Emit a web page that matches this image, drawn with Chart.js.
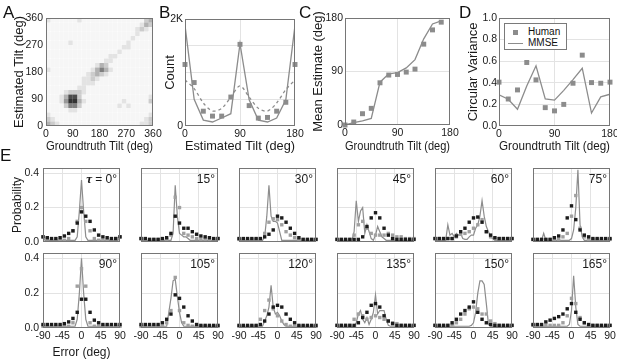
<!DOCTYPE html>
<html>
<head>
<meta charset="utf-8">
<script src="https://cdn.jsdelivr.net/npm/chart.js@4.4.1/dist/chart.umd.min.js"></script>
<style>
  body { margin: 0; background: #fff; }
  #fig { position: relative; width: 617px; height: 363px; overflow: hidden; font-family: "Liberation Sans", Arial, sans-serif; color: #111; }
  #fig canvas { position: absolute; left: 0; top: 0; }
  .tag { position: absolute; font-size: 17px; line-height: 17px; z-index: 5; }
  #legD { position: absolute; left: 504px; top: 23px; width: 61px; height: 25px; border: 1px solid #7a7a7a; background: #fff; font-size: 10px; z-index: 5; }
  #legD span { position: absolute; line-height: 12px; }
</style>
</head>
<body>
<div id="fig">
  <div class="tag" style="left:3px;top:4px">A</div>
  <div class="tag" style="left:159px;top:4px">B</div>
  <div class="tag" style="left:299px;top:4px">C</div>
  <div class="tag" style="left:459px;top:4px">D</div>
  <div class="tag" style="left:0px;top:147px">E</div>
  <div id="legD">
    <span style="left:8px;top:6px;width:5px;height:5px;background:#8c8c8c"></span>
    <span style="left:23px;top:2px">Human</span>
    <span style="left:3px;top:19px;width:15px;height:1px;background:#8c8c8c"></span>
    <span style="left:23px;top:13px">MMSE</span>
  </div>
</div>
<script>
// ---- A: response density, 15 deg bins (rows: estimated 360 -> 0, cols: groundtruth 0 -> 360)
const aGrid = [
  '2111 1112 1111 1111 1111 1134',
  '1111 1111 1111 1111 1111 1243',
  '1111 1111 1111 1111 1111 2321',
  '1111 1111 1111 1111 1111 2111',
  '1111 1111 1111 1111 1112 1111',
  '1111 1211 1111 1111 1121 1111',
  '1111 1111 1111 1111 1221 1111',
  '1111 1111 1111 1111 2111 1111',
  '1111 1111 1111 1122 1111 1111',
  '1111 1111 1111 1221 1111 1111',
  '1111 1111 1112 4311 1111 1111',
  '2111 1111 1124 6421 1111 1111',
  '1111 1111 1234 3211 1111 1111',
  '1111 1111 2232 1111 1111 1111',
  '1111 1111 2221 1111 1111 1111',
  '1111 1112 2111 1111 1111 1111',
  '1111 2333 2111 1111 1111 1111',
  '1112 4883 1111 1111 1111 1112',
  '1112 5994 2111 1111 1211 1113',
  '1111 3663 1111 1111 2121 1111',
  '1111 1221 1111 1111 1111 1111',
  '2111 1111 1111 1111 1111 1112',
  '3211 1111 1111 1111 1111 1123',
  '4321 1111 1111 1111 1111 1223'
];
const aShade = [0, .035, .11, .2, .3, .4, .5, .6, .7, .8];

// ---- B: histogram of estimates
const bTilt = [0, 15, 30, 45, 60, 75, 90, 105, 120, 135, 150, 165, 180];
const bHuman = [1150, 812, 277, 185, 185, 541, 1526, 381, 148, 160, 277, 443, 1150];
const bMmse = [1880, 500, 110, 75, 150, 230, 1540, 490, 110, 75, 150, 490, 1880];
const bDashed = [860, 700, 430, 280, 330, 540, 750, 540, 330, 280, 430, 680, 860];

// ---- C: mean estimate
const cTilt = [0, 15, 30, 45, 60, 75, 90, 105, 120, 135, 150, 165];
const cHuman = [0, 5, 19, 28, 71, 84, 85, 89, 94, 136, 160, 173];
const cMmse = [0, 4, 7, 11, 72, 86, 88, 96, 110, 145, 170, 175];

// ---- D: circular variance
const dTilt = [0, 15, 30, 45, 60, 75, 90, 105, 120, 135, 150, 165, 180];
const dHuman = [.406, .25, .334, .588, .427, .17, .14, .20, .396, .656, .402, .396, .406];
const dMmse = [.288, .248, .155, .37, .557, .25, .24, .33, .43, .535, .12, .27, .294];

// ---- E: error distributions per groundtruth tilt
const eTilts = ['0°', '15°', '30°', '45°', '60°', '75°', '90°', '105°', '120°', '135°', '150°', '165°'];
const errSq = [-90, -80, -70, -60, -50, -40, -30, -20, -10, 0, 10, 20, 30, 40, 50, 60, 70, 80, 90];
const errLn = [-90, -85, -80, -75, -70, -65, -60, -55, -50, -45, -40, -35, -30, -25, -20, -15, -10, -5, 0,
  5, 10, 15, 20, 25, 30, 35, 40, 45, 50, 55, 60, 65, 70, 75, 80, 85, 90];
const errBlack = [
  [.03,.025,.02,.02,.025,.035,.05,.065,.11,.175,.15,.12,.07,.04,.03,.025,.02,.02,.03],
  [.02,.02,.015,.015,.015,.02,.025,.05,.15,.11,.08,.08,.06,.045,.035,.03,.025,.02,.02],
  [.02,.02,.02,.02,.02,.02,.03,.045,.07,.15,.14,.115,.08,.05,.025,.015,.015,.015,.015],
  [.015,.015,.015,.015,.015,.015,.03,.09,.14,.17,.14,.08,.04,.02,.015,.015,.015,.015,.015],
  [.02,.02,.02,.02,.02,.035,.06,.08,.115,.14,.145,.115,.06,.04,.025,.02,.02,.02,.02],
  [.015,.015,.015,.015,.015,.025,.035,.07,.14,.21,.13,.07,.04,.03,.02,.02,.02,.02,.02],
  [.02,.02,.02,.02,.02,.025,.035,.055,.09,.165,.165,.09,.045,.03,.02,.02,.02,.02,.02],
  [.02,.02,.02,.02,.02,.03,.05,.08,.19,.17,.12,.07,.04,.02,.015,.015,.015,.015,.015],
  [.015,.015,.015,.015,.015,.02,.04,.08,.12,.13,.12,.08,.05,.03,.015,.015,.015,.015,.015],
  [.015,.015,.015,.015,.015,.03,.06,.09,.13,.14,.12,.07,.04,.025,.015,.015,.015,.015,.015],
  [.015,.015,.015,.015,.03,.05,.08,.1,.12,.15,.09,.05,.03,.02,.015,.015,.015,.015,.015],
  [.02,.02,.02,.035,.045,.055,.065,.08,.11,.14,.09,.05,.03,.02,.015,.015,.015,.015,.015]
];
const errGray = [
  [.03,.02,.01,.01,.01,.01,.02,.065,.12,.2,.12,.065,.02,.01,.01,.01,.01,.02,.03],
  [.02,.015,.015,.015,.015,.015,.015,.04,.26,.2,.05,.04,.03,.02,.015,.015,.015,.015,.02],
  [.015,.015,.015,.015,.015,.015,.05,.115,.135,.13,.1,.06,.04,.025,.015,.015,.015,.015,.015],
  [.015,.015,.015,.015,.04,.1,.12,.08,.05,.04,.04,.04,.05,.04,.03,.03,.02,.02,.02],
  [.02,.02,.02,.02,.02,.03,.045,.05,.06,.08,.1,.13,.06,.03,.02,.02,.02,.02,.02],
  [.015,.015,.015,.015,.015,.015,.015,.03,.05,.15,.27,.08,.03,.015,.015,.015,.015,.015,.015],
  [.01,.01,.01,.01,.01,.01,.01,.03,.24,.34,.24,.03,.01,.01,.01,.01,.01,.01,.01],
  [.01,.01,.01,.01,.01,.01,.03,.1,.29,.1,.03,.015,.01,.01,.01,.01,.01,.01,.01],
  [.01,.01,.01,.01,.01,.05,.1,.16,.11,.07,.04,.02,.01,.01,.01,.01,.01,.01,.01],
  [.015,.015,.015,.015,.05,.08,.07,.05,.06,.07,.06,.05,.04,.03,.025,.015,.015,.015,.015],
  [.015,.015,.015,.015,.015,.03,.05,.08,.11,.12,.11,.08,.08,.04,.025,.015,.015,.015,.015],
  [.015,.015,.015,.015,.015,.015,.015,.03,.07,.17,.14,.06,.03,.015,.015,.015,.015,.015,.015]
];
const errLine = [
  [.02,.01,.01,.01,.01,.01,.01,.01,.01,.01,.01,.01,.01,.01,.01,.01,.03,.18,.36,.18,.03,.01,.01,.01,.01,.01,.01,.01,.01,.01,.01,.01,.01,.01,.01,.01,.02],
  [.01,.01,.01,.01,.01,.01,.01,.01,.01,.01,.01,.01,.01,.01,.01,.05,.33,.15,.05,.04,.03,.03,.02,.01,.01,.01,.01,.01,.01,.01,.01,.01,.01,.01,.01,.01,.01],
  [.01,.01,.01,.01,.01,.01,.01,.01,.01,.01,.01,.01,.03,.15,.33,.15,.12,.12,.11,.06,.01,.01,.01,.01,.01,.01,.01,.01,.01,.01,.01,.01,.01,.01,.01,.01,.01],
  [.01,.01,.01,.01,.01,.01,.01,.01,.06,.24,.12,.18,.2,.05,.1,.06,.02,.01,.04,.09,.06,.03,.02,.01,.01,.01,.01,.01,.01,.01,.01,.01,.01,.01,.01,.01,.01],
  [.01,.01,.01,.01,.01,.01,.1,.04,.05,.03,.05,.04,.05,.02,.015,.015,.03,.04,.04,.08,.1,.15,.24,.15,.09,.06,.03,.02,.01,.01,.01,.01,.01,.01,.01,.01,.01],
  [.01,.01,.01,.01,.01,.05,.01,.01,.01,.01,.01,.01,.01,.01,.01,.01,.01,.01,.02,.07,.2,.42,.1,.03,.01,.01,.01,.01,.01,.01,.01,.01,.01,.01,.01,.01,.01],
  [.01,.01,.01,.01,.01,.01,.01,.01,.01,.01,.01,.01,.01,.01,.01,.01,.05,.2,.4,.2,.05,.01,.01,.01,.01,.01,.01,.01,.01,.01,.01,.01,.01,.01,.01,.01,.01],
  [.01,.01,.01,.01,.01,.01,.01,.01,.01,.01,.01,.01,.01,.09,.17,.27,.28,.18,.09,.03,.01,.01,.01,.01,.01,.01,.01,.01,.01,.01,.01,.01,.01,.01,.01,.01,.01],
  [.01,.01,.01,.01,.01,.01,.01,.01,.01,.01,.01,.01,.04,.07,.12,.245,.12,.08,.09,.07,.04,.02,.01,.01,.01,.01,.01,.01,.01,.01,.01,.01,.01,.01,.01,.01,.01],
  [.01,.01,.01,.01,.01,.01,.01,.01,.01,.03,.08,.1,.05,.03,.06,.02,.05,.09,.19,.08,.1,.1,.1,.05,.015,.01,.01,.01,.01,.01,.01,.01,.01,.01,.01,.01,.01],
  [.01,.01,.01,.01,.01,.01,.01,.01,.01,.01,.01,.01,.01,.01,.01,.01,.01,.015,.03,.09,.2,.27,.27,.25,.14,.02,.01,.01,.01,.01,.01,.01,.01,.01,.01,.01,.01],
  [.01,.01,.01,.01,.01,.01,.01,.01,.01,.01,.01,.01,.01,.01,.01,.01,.01,.02,.1,.3,.12,.02,.01,.01,.01,.01,.01,.01,.01,.01,.01,.01,.01,.01,.01,.01,.01]
];

Chart.defaults.font.family = '"Liberation Sans", Arial, Helvetica, sans-serif';
Chart.defaults.color = '#1a1a1a';

const W = 617, H = 363;
const fig = document.getElementById('fig');

// box round the plot area, plus the tilt tag for the E panels
const frame = {
  id: 'frame',
  afterDraw(chart, args, opts) {
    const { ctx, chartArea: a } = chart;
    ctx.save();
    ctx.strokeStyle = '#767676';
    ctx.lineWidth = 1;
    ctx.strokeRect(a.left + 0.5, a.top + 0.5, a.right - a.left - 1, a.bottom - a.top - 1);
    if (opts.tag) {
      const x = a.right - 3, y = a.top + 12;
      ctx.fillStyle = '#1a1a1a';
      ctx.textAlign = 'right';
      ctx.textBaseline = 'middle';
      ctx.font = '12px "Liberation Sans", Arial, sans-serif';
      ctx.fillText(opts.tag, x, y);
      if (opts.sym) {
        const w = ctx.measureText(opts.tag).width;
        ctx.font = 'italic bold 13px "Liberation Serif", "DejaVu Serif", serif';
        ctx.fillText(opts.sym + ' ', x - w, y);
      }
    }
    ctx.restore();
  }
};

function scale(o) {
  return {
    type: 'linear',
    min: o.min, max: o.max,
    afterBuildTicks: s => { s.ticks = o.ticks.map(v => ({ value: v })); },
    afterFit: s => {
      if (s.isHorizontal()) s.height = o.size; else s.width = o.size;
      s.paddingLeft = s.paddingRight = s.paddingTop = s.paddingBottom = 0;
    },
    ticks: {
      display: o.labels !== false, padding: o.pad ?? 2, maxRotation: 0, autoSkip: false,
      callback: o.fmt || (v => String(v)), font: { size: 10.5 }, color: '#1a1a1a'
    },
    grid: {
      drawTicks: false,
      color: c => (o.grid || []).includes(c.tick && c.tick.value) ? '#e3e3e3' : 'rgba(0,0,0,0)'
    },
    border: { display: false },
    title: { display: !!o.title, text: o.title || '', padding: 0, color: '#1a1a1a', font: { size: o.tsize || 13 } }
  };
}

function panel(rect, xo, yo, datasets, frameOpts) {
  const c = document.createElement('canvas');
  c.width = W; c.height = H;
  fig.appendChild(c);
  new Chart(c, {
    type: 'scatter',
    data: { datasets },
    options: {
      responsive: false, animation: false, events: [],
      layout: { padding: { left: rect[0] - yo.size, top: rect[1], right: W - rect[2], bottom: H - rect[3] - xo.size } },
      plugins: { legend: { display: false }, tooltip: { enabled: false }, frame: frameOpts || {} },
      scales: { x: scale(xo), y: scale(yo) }
    },
    plugins: [frame]
  });
}

const xy = (xs, ys) => ys.map((y, i) => ({ x: xs[i], y }));
const sq = (xs, ys, color, r, label) => ({ label, data: xy(xs, ys), pointStyle: 'rect', pointRadius: r,
  backgroundColor: color, pointBorderWidth: 0, borderWidth: 0, clip: false });
const ln = (xs, ys, color, w, label, dash, tension) => ({ label, data: xy(xs, ys), showLine: true, pointRadius: 0,
  borderColor: color, borderWidth: w, borderDash: dash || [], tension: tension || 0 });

// ---- A
const aPts = [], aCol = [];
aGrid.forEach((row, r) => {
  const cells = row.replace(/ /g, '');
  for (let i = 0; i < cells.length; i++) {
    const d = +cells[i];
    if (!d) continue;
    aPts.push({ x: (i + 0.5) * 15, y: (aGrid.length - 1 - r + 0.5) * 15 });
    aCol.push(`rgba(0,0,0,${aShade[d]})`);
  }
});
const tilt360 = [0, 90, 180, 270, 360];
panel([46, 18, 153, 126],
  { min: 0, max: 360, ticks: tilt360, size: 28, title: 'Groundtruth Tilt (deg)' },
  { min: 0, max: 360, ticks: tilt360, size: 34, pad: 3, title: 'Estimated Tilt (deg)' },
  [{ label: 'responses', data: aPts, pointStyle: 'rect', pointRadius: 3.15, backgroundColor: aCol, pointBorderWidth: 0 }]);

// ---- B
const tilt180 = [0, 90, 180];
panel([185, 19, 295, 126],
  { min: 0, max: 180, ticks: tilt180, grid: [90], size: 28, title: 'Estimated Tilt (deg)' },
  { min: 0, max: 2000, ticks: [0, 500, 1000, 1500, 2000], grid: [500, 1000, 1500], size: 22, pad: 2,
    fmt: v => v === 0 ? '0' : v === 2000 ? '2K' : '', title: 'Count' },
  [sq(bTilt, bHuman, '#8c8c8c', 3.5, 'Human'),
   ln(bTilt, bMmse, '#8c8c8c', 1.3, 'MMSE'),
   ln(bTilt, bDashed, '#8c8c8c', 1.3, 'Dashed', [3, 3], 0.3)]);

// ---- C
panel([345, 18, 450, 125],
  { min: 0, max: 180, ticks: tilt180, grid: [90], size: 29, title: 'Groundtruth Tilt (deg)' },
  { min: 0, max: 180, ticks: tilt180, grid: [90], size: 34, pad: 2, title: 'Mean Estimate (deg)' },
  [sq(cTilt, cHuman, '#8c8c8c', 3.5, 'Human'), ln(cTilt, cMmse, '#8c8c8c', 1.3, 'MMSE')]);

// ---- D
panel([499, 18, 610, 126],
  { min: 0, max: 180, ticks: tilt180, grid: [90], size: 28, title: 'Groundtruth Tilt (deg)' },
  { min: 0, max: 1, ticks: [0, .2, .4, .6, .8, 1], grid: [.2, .4, .6, .8], size: 33, pad: 2,
    fmt: v => v.toFixed(1), title: 'Circular Variance' },
  [sq(dTilt, dHuman, '#8c8c8c', 3.5, 'Human'), ln(dTilt, dMmse, '#8c8c8c', 1.3, 'MMSE')]);

// ---- E
const eLeft = [43, 141, 239, 337, 435, 533], eWidth = 77;
const eRows = [[168, 242], [253, 328]];
eTilts.forEach((tag, k) => {
  const row = Math.floor(k / 6), col = k % 6;
  const rect = [eLeft[col], eRows[row][0], eLeft[col] + eWidth, eRows[row][1]];
  panel(rect,
    { min: -90, max: 90, ticks: [-90, -45, 0, 45, 90], grid: [-45, 0, 45], labels: row === 1,
      size: row === 1 ? 32 : 0, title: row === 1 && col === 0 ? 'Error (deg)' : '', tsize: 12 },
    { min: 0, max: 0.43, ticks: [0, .2, .4], grid: [.2, .4], labels: col === 0, pad: 4,
      fmt: v => v.toFixed(1), size: col === 0 ? 33 : 0, title: k === 0 ? 'Probability' : '', tsize: 12 },
    [sq(errSq, errBlack[k], '#1c1c1c', 2.4, 'Black'),
     sq(errSq, errGray[k], '#a0a0a0', 2.4, 'Gray'),
     ln(errLn, errLine[k], '#8d8d8d', 1.2, 'MMSE')],
    k === 0 ? { tag: '= ' + tag, sym: 'τ' } : { tag });
});
</script>
</body>
</html>
